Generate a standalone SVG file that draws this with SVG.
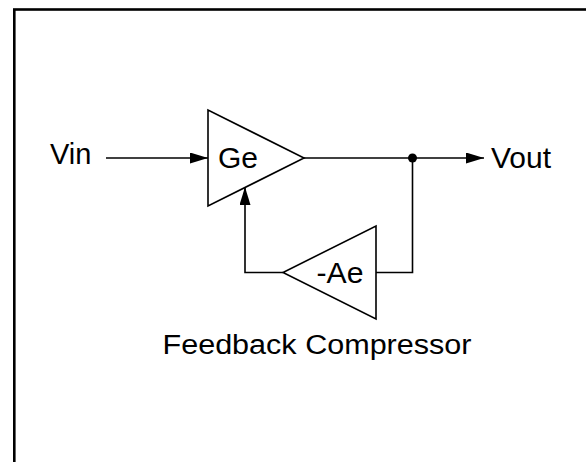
<svg xmlns="http://www.w3.org/2000/svg" width="586" height="462" viewBox="0 0 586 462">
<style>
.frame{fill:none;stroke:#000;stroke-width:2.6}
.amp{fill:#fff;stroke:#000;stroke-width:1.6;stroke-linejoin:miter}
.wire{fill:none;stroke:#000;stroke-width:1.6}
.lbl{font-family:"Liberation Sans",Arial,sans-serif;font-size:29px;fill:#000}
</style>
<defs>
<marker id="arr" markerUnits="userSpaceOnUse" markerWidth="20" markerHeight="12" refX="18" refY="5.5" orient="auto">
<path d="M0,0 L18,5.5 L0,11 Z" fill="#000"/>
</marker>
</defs>
<rect width="586" height="462" fill="#fff"/>
<rect class="frame" x="14.3" y="9.5" width="620" height="500"/>
<g id="connectors">
<line class="wire" x1="106" y1="158" x2="208" y2="158" marker-end="url(#arr)"/>
<line class="wire" x1="304" y1="158" x2="484" y2="158" marker-end="url(#arr)"/>
<polyline class="wire" points="412.5,158 412.5,272.5 376,272.5"/>
<polyline class="wire" points="283,272.5 245,272.5 245,187" marker-end="url(#arr)"/>
<circle cx="412.5" cy="158" r="4.5" fill="#000"/>
</g>
<g id="vin"><text class="lbl" x="50" y="164">Vin</text></g>
<g id="ge">
<polygon class="amp" points="208,110 208,206 304,158"/>
<text class="lbl" x="218" y="168" textLength="40" lengthAdjust="spacingAndGlyphs">Ge</text>
</g>
<g id="ae">
<polygon class="amp" points="376,226 376,319 283,272.5"/>
<text class="lbl" x="316.5" y="283" textLength="47" lengthAdjust="spacingAndGlyphs">-Ae</text>
</g>
<g id="vout"><text class="lbl" x="491" y="168" textLength="60" lengthAdjust="spacingAndGlyphs">Vout</text></g>
<g id="caption"><text class="lbl" style="font-size:27px" x="162.5" y="354" textLength="309" lengthAdjust="spacingAndGlyphs">Feedback Compressor</text></g>
</svg>
